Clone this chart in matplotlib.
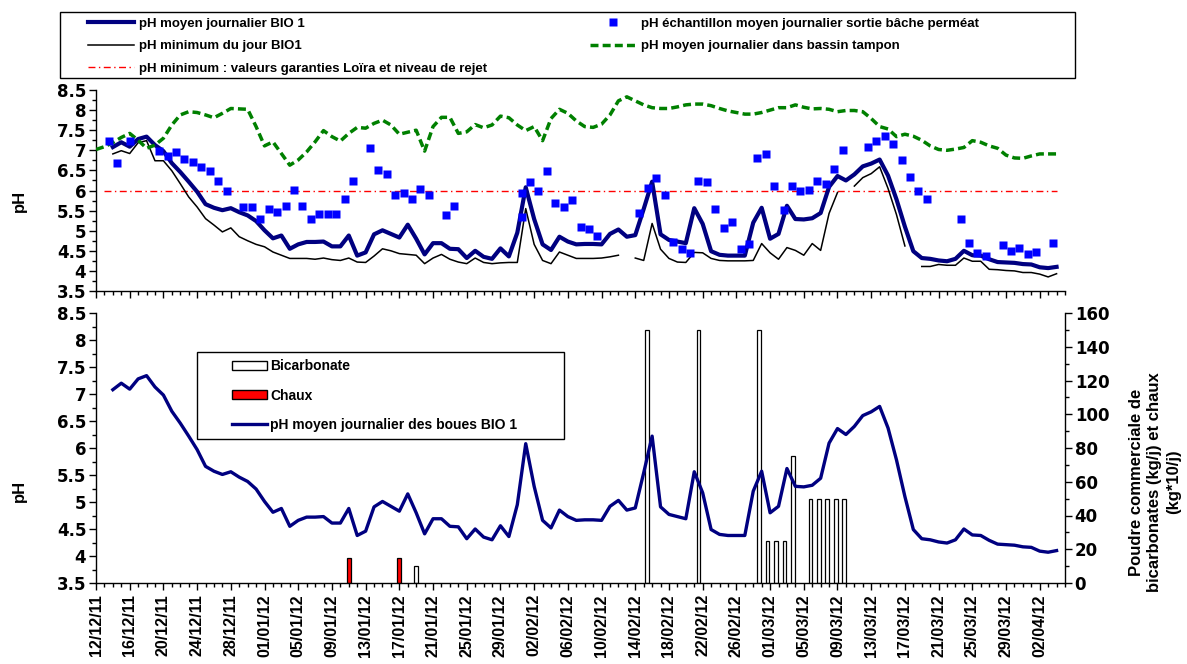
import numpy as np
import matplotlib
matplotlib.use('Agg')
import matplotlib.pyplot as plt
from matplotlib.patches import Rectangle, Patch
from matplotlib.lines import Line2D
from matplotlib.ticker import MultipleLocator, FixedLocator, FuncFormatter

W, H, DPI = 1187, 664, 100

# ------------------------------------------------------------------ data
# day index 0 = 12/12/2011
tick_labels = ['12/12/11', '16/12/11', '20/12/11', '24/12/11', '28/12/11', '01/01/12',
               '05/01/12', '09/01/12', '13/01/12', '17/01/12', '21/01/12', '25/01/12',
               '29/01/12', '02/02/12', '06/02/12', '10/02/12', '14/02/12', '18/02/12',
               '22/02/12', '26/02/12', '01/03/12', '05/03/12', '09/03/12', '13/03/12',
               '17/03/12', '21/03/12', '25/03/12', '29/03/12', '02/04/12']

# pH moyen journalier BIO 1 (days 2..114)
mean_ph = [7.08, 7.20, 7.09, 7.28, 7.34, 7.13, 6.98, 6.68, 6.46, 6.22,
           5.97, 5.66, 5.57, 5.51, 5.56, 5.46, 5.38, 5.24, 5.01, 4.81,
           4.88, 4.55, 4.66, 4.72, 4.72, 4.73, 4.61, 4.61, 4.88, 4.38,
           4.46, 4.91, 5.01, 4.92, 4.83, 5.15, 4.80, 4.41, 4.69, 4.69,
           4.55, 4.54, 4.32, 4.50, 4.35, 4.30, 4.56, 4.36, 4.95, 6.08,
           5.29, 4.66, 4.52, 4.85, 4.73, 4.66, 4.67, 4.67, 4.66, 4.92,
           5.03, 4.85, 4.89, 5.54, 6.22, 4.91, 4.77, 4.73, 4.69, 5.56,
           5.17, 4.49, 4.40, 4.38, 4.38, 4.38, 5.20, 5.57, 4.80, 4.92,
           5.62, 5.29, 5.28, 5.31, 5.44, 6.09, 6.36, 6.25, 6.40, 6.60,
           6.67, 6.77, 6.37, 5.78, 5.10, 4.49, 4.32, 4.30, 4.26, 4.24,
           4.30, 4.50, 4.39, 4.38, 4.29, 4.22, 4.21, 4.20, 4.17, 4.16,
           4.09, 4.07, 4.10]
mean_start_day = 2

# pH minimum du jour BIO1 (days 2..114, NaN = missing)
nan = np.nan
min_ph = [6.91, 6.99, 6.92, 7.19, 7.24, 6.74, 6.74, 6.49, 6.17, 5.84,
          5.59, 5.30, 5.14, 4.97, 5.07, 4.85, 4.75, 4.66, 4.60, 4.47,
          4.39, 4.31, 4.31, 4.31, 4.29, 4.32, 4.28, 4.26, 4.32, 4.22,
          4.21, 4.37, 4.55, 4.50, 4.43, 4.41, 4.39, 4.18, 4.32, 4.41,
          4.29, 4.22, 4.18, 4.32, 4.21, 4.18, 4.20, 4.21, 4.21, 5.55,
          4.66, 4.26, 4.18, 4.47, 4.39, 4.31, 4.31, 4.31, 4.32, 4.35,
          4.39, nan, 4.32, 4.26, 5.18, 4.54, 4.31, 4.22, 4.21, 4.46,
          4.45, 4.31, 4.26, 4.25, 4.25, 4.25, 4.26, 4.68, 4.45, 4.29,
          4.58, 4.51, 4.39, 4.68, 4.51, 5.43, 5.95, nan, 6.11, 6.32,
          6.42, 6.59, 6.05, 5.40, 4.62, nan, 4.11, 4.11, 4.16, 4.14,
          4.14, 4.32, 4.24, 4.24, 4.04, 4.03, 4.01, 4.00, 3.96, 3.96,
          3.92, 3.85, 3.93]
min_start_day = 2

# pH moyen journalier dans bassin tampon (days 0..114)
tampon_ph = [7.02, 7.09, 7.19, 7.32, 7.42, 7.25, 7.05, 7.13, 7.30, 7.63,
             7.88, 7.96, 7.94, 7.88, 7.81, 7.92, 8.04, 8.03, 8.02, 7.59,
             7.11, 7.21, 6.92, 6.63, 6.76, 6.96, 7.21, 7.49, 7.34, 7.23,
             7.42, 7.57, 7.55, 7.67, 7.75, 7.63, 7.40, 7.45, 7.50, 6.98,
             7.59, 7.82, 7.82, 7.42, 7.46, 7.64, 7.56, 7.63, 7.85, 7.81,
             7.63, 7.49, 7.59, 7.24, 7.79, 8.02, 7.92, 7.73, 7.59, 7.57,
             7.65, 7.88, 8.23, 8.33, 8.23, 8.13, 8.06, 8.04, 8.04, 8.08,
             8.13, 8.15, 8.15, 8.11, 8.04, 7.98, 7.94, 7.90, 7.90, 7.94,
             8.00, 8.06, 8.06, 8.13, 8.07, 8.03, 8.04, 8.02, 7.96, 7.99,
             7.99, 7.96, 7.79, 7.59, 7.53, 7.34, 7.40, 7.35, 7.25, 7.11,
             7.02, 7.00, 7.03, 7.07, 7.24, 7.20, 7.11, 7.05, 6.88, 6.81,
             6.80, 6.86, 6.91, 6.91, 6.91]
tampon_start_day = 0

# pH échantillon moyen journalier sortie bâche perméat
sample_days = [1.5, 2.5, 4.0, 7.5, 8.5, 9.5, 10.5, 11.5, 12.5, 13.5, 14.5, 15.5,
               17.5, 18.5, 19.5, 20.5, 21.5, 22.5, 23.5, 24.5, 25.5, 26.5, 27.5,
               28.5, 29.5, 30.5, 32.5, 33.5, 34.5, 35.5, 36.5, 37.5, 38.5, 39.5,
               41.5, 42.5, 50.5, 50.5, 51.5, 52.5, 53.5, 54.5, 55.5, 56.5, 57.5,
               58.5, 59.5, 64.5, 65.5, 66.5, 67.5, 68.5, 69.5, 70.5, 71.5, 72.5,
               73.5, 74.5, 75.5, 76.5, 77.5, 78.5, 79.5, 80.5, 81.6, 82.6, 83.6,
               84.6, 85.6, 86.6, 87.6, 88.6, 91.6, 92.6, 93.6, 94.6, 95.6, 96.6,
               97.6, 98.6, 102.6, 103.6, 104.6, 105.6, 107.6, 108.6, 109.6,
               110.6, 111.6, 113.6]
sample_ph = [7.23, 6.69, 7.23, 6.98, 6.86, 6.96, 6.79, 6.70, 6.59, 6.49, 6.23, 5.99,
             5.59, 5.59, 5.28, 5.53, 5.47, 5.61, 6.02, 5.61, 5.30, 5.41, 5.41,
             5.41, 5.78, 6.23, 7.06, 6.52, 6.40, 5.88, 5.94, 5.78, 6.04, 5.90,
             5.39, 5.61, 5.34, 5.94, 6.22, 5.99, 6.48, 5.68, 5.59, 5.76, 5.08,
             5.04, 4.86, 5.45, 6.05, 6.32, 5.90, 4.72, 4.54, 4.45, 6.23, 6.22,
             5.55, 5.07, 5.22, 4.54, 4.68, 6.81, 6.90, 6.11, 5.51, 6.12, 5.99,
             6.02, 6.24, 6.17, 6.54, 7.00, 7.09, 7.23, 7.36, 7.15, 6.77, 6.34,
             5.99, 5.80, 5.30, 4.70, 4.45, 4.37, 4.65, 4.49, 4.57,
             4.41, 4.47, 4.70]

# pH minimum : valeurs garanties Loïra et niveau de rejet (days 1..114)
garanti_ph = 6.0
garanti_first_day, garanti_last_day = 1, 114

# Poudre commerciale (kg/j) – bicarbonate, et chaux (kg*10/j)
bicarb_days = [38.0, 65.4, 71.5, 78.7, 79.7, 80.7, 81.7, 82.7, 84.8, 85.8, 86.8, 87.8, 88.8]
bicarb_vals = [10, 150, 150, 150, 25, 25, 25, 75, 50, 50, 50, 50, 50]
chaux_days = [30.0, 36.0]
chaux_vals = [15, 15]

# ------------------------------------------------------------------ style
NAVY = '#000080'
GREEN = '#008000'
BLUE = '#0000FF'
RED = '#FF0000'
LAB = 'Liberation Sans'
TICKF = 'DejaVu Sans'

plt.rcParams['font.family'] = [TICKF]
plt.rcParams['font.weight'] = 'bold'

fig = plt.figure(figsize=(W / DPI, H / DPI), dpi=DPI)


def fx(px):
    return px / W


def fy(py):
    return 1 - py / H


axt = fig.add_axes([fx(96), fy(291), fx(1065) - fx(96), fy(90) - fy(291)])
axb = fig.add_axes([fx(96), fy(583), fx(1065) - fx(96), fy(313) - fy(583)])
axr = axb.twinx()

mean_x = np.arange(len(mean_ph)) + mean_start_day
min_x = np.arange(len(min_ph)) + min_start_day
tampon_x = np.arange(len(tampon_ph)) + tampon_start_day
gar_x = np.arange(garanti_first_day, garanti_last_day + 1)
gar_y = np.full(len(gar_x), garanti_ph)

RED_DASH = (5, 2.5, 1, 2.5)
GREEN_DASH = (2.3, 1.2)

# top panel
axt.plot(gar_x, gar_y, color=RED, lw=1.0, dashes=RED_DASH, zorder=2)
axt.plot(min_x, min_ph, color='black', lw=1.1, zorder=3)
axt.plot(mean_x, mean_ph, color=NAVY, lw=3.0, zorder=4, solid_joinstyle='round')
axt.plot(tampon_x, tampon_ph, color=GREEN, lw=2.5, dashes=GREEN_DASH, zorder=5)
axt.plot(sample_days, sample_ph, 's', color=BLUE, ms=5.2, mec='none', zorder=6)

# bottom panel
axr.bar(bicarb_days, bicarb_vals, width=0.45, color='white', edgecolor='black', lw=0.9)
axr.bar(chaux_days, chaux_vals, width=0.45, color=RED, edgecolor='black', lw=0.9)
axb.plot(mean_x, mean_ph, color=NAVY, lw=2.4, solid_joinstyle='round')
axb.set_zorder(axr.get_zorder() + 1)
axb.patch.set_visible(False)

tick_pos = [4 * i for i in range(len(tick_labels))]
fmt = FuncFormatter(lambda v, _: f'{v:g}')

for ax in (axt, axb):
    ax.set_xlim(0, 115)
    ax.set_ylim(3.5, 8.5)
    ax.xaxis.set_major_locator(FixedLocator(tick_pos))
    ax.xaxis.set_minor_locator(MultipleLocator(1))
    ax.yaxis.set_major_locator(MultipleLocator(0.5))
    ax.yaxis.set_minor_locator(MultipleLocator(0.25))
    ax.yaxis.set_major_formatter(fmt)
    ax.tick_params(which='major', direction='out', length=5, width=1, pad=2,
                   labelsize=12, color='black')
    ax.tick_params(which='minor', direction='out', length=3, width=1, color='black')
    for s in ('top', 'right'):
        ax.spines[s].set_visible(False)
    for s in ('left', 'bottom'):
        ax.spines[s].set_linewidth(1.0)

axt.tick_params(labelbottom=False)
axb.set_xticks(tick_pos, tick_labels, rotation=90, fontfamily=LAB,
               fontweight='bold', fontsize=11.5)
axb.tick_params(axis='x', pad=3)

axr.set_ylim(0, 160)
axr.yaxis.set_major_locator(MultipleLocator(20))
axr.yaxis.set_minor_locator(MultipleLocator(10))
axr.tick_params(which='major', direction='out', length=5, width=1, pad=2, labelsize=12)
axr.tick_params(which='minor', direction='out', length=3, width=1)
for s in ('top', 'left', 'bottom'):
    axr.spines[s].set_visible(False)
axr.spines['right'].set_linewidth(1.0)

# axis titles
lab_kw = dict(rotation=90, ha='center', va='center', fontsize=12,
              fontweight='bold', family=LAB)
fig.text(fx(19), fy(201), 'pH', **lab_kw)
fig.text(fx(19), fy(491), 'pH', **lab_kw)
fig.text(fx(1155), fy(482), 'Poudre commerciale de\nbicarbonates (kg/j) et chaux\n(kg*10/j)',
         multialignment='center', linespacing=1.3, **lab_kw)

# top legend
fig.add_artist(Rectangle((fx(60), fy(78)), fx(1075) - fx(60), fy(12) - fy(78),
                         transform=fig.transFigure, facecolor='white',
                         edgecolor='black', lw=1.0, zorder=1))
leg_prop = dict(family=LAB, weight='bold', size=9.5)
leg_kw = dict(loc='upper left', frameon=False, borderpad=0, borderaxespad=0,
              handlelength=3.5, handletextpad=0.4, labelspacing=0.78, prop=leg_prop,
              numpoints=1)
h1 = [Line2D([], [], color=NAVY, lw=3.0),
      Line2D([], [], color='black', lw=1.1),
      Line2D([], [], color=RED, lw=1.0, dashes=RED_DASH)]
l1 = ['pH moyen journalier BIO 1', 'pH minimum du jour BIO1',
      'pH minimum : valeurs garanties Loïra et niveau de rejet']
fig.legend(h1, l1, bbox_to_anchor=(fx(88), fy(17.5)), **leg_kw)
h2 = [Line2D([], [], marker='s', ls='none', color=BLUE, ms=5.2, mec='none'),
      Line2D([], [], color=GREEN, lw=2.5, dashes=GREEN_DASH)]
l2 = ['pH échantillon moyen journalier sortie bâche perméat',
      'pH moyen journalier dans bassin tampon']
fig.legend(h2, l2, bbox_to_anchor=(fx(590), fy(17.5)), **leg_kw)

# bottom legend
fig.add_artist(Rectangle((fx(197), fy(439)), fx(564) - fx(197), fy(352) - fy(439),
                         transform=fig.transFigure, facecolor='white',
                         edgecolor='black', lw=1.0, zorder=1))
h3 = [Patch(facecolor='white', edgecolor='black', lw=1.0),
      Patch(facecolor=RED, edgecolor='black', lw=1.0),
      Line2D([], [], color=NAVY, lw=2.4)]
l3 = ['Bicarbonate', 'Chaux', 'pH moyen journalier des boues BIO 1']
fig.legend(h3, l3, loc='upper left', bbox_to_anchor=(fx(232), fy(359)), frameon=False,
           borderpad=0, borderaxespad=0, handlelength=2.5, handleheight=0.6,
           handletextpad=0.25, labelspacing=1.12,
           prop=dict(family=LAB, weight='bold', size=10))

fig.savefig('out.png', dpi=DPI)
